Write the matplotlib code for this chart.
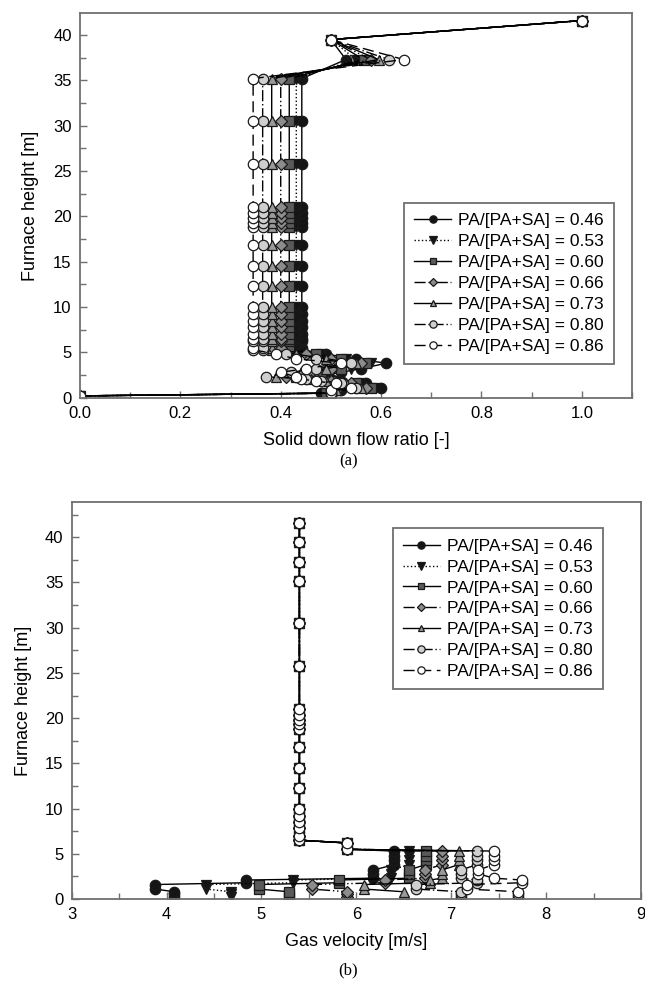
import matplotlib
matplotlib.use('Agg')
import matplotlib.pyplot as plt
from matplotlib.ticker import MultipleLocator

plt.rcParams['font.family'] = ['Liberation Sans', 'DejaVu Sans']

# heights of the cells [m], shared by both panels
heights = [0.2, 0.5, 0.8, 1.1, 1.6, 1.8, 2.1, 2.3, 2.8, 3.2, 3.8, 4.3, 4.8, 5.3,
           5.5, 6.2, 6.5, 7.0, 7.8, 8.5, 9.2, 10.0, 12.3, 14.5, 16.8, 18.8, 19.3,
           19.8, 20.4, 21.0, 25.8, 30.5, 35.2, 37.3, 39.5, 41.6]

labels = ['PA/[PA+SA] = 0.46', 'PA/[PA+SA] = 0.53', 'PA/[PA+SA] = 0.60',
          'PA/[PA+SA] = 0.66', 'PA/[PA+SA] = 0.73', 'PA/[PA+SA] = 0.80',
          'PA/[PA+SA] = 0.86']

# (a) solid down flow ratio [-]
sdr_046 = [0.0, 0.48, 0.52, 0.60, 0.57, 0.52, 0.50, 0.47, 0.52, 0.56, 0.61, 0.55, 0.49, 0.442,
           0.442, 0.442, 0.442, 0.442, 0.442, 0.442, 0.442, 0.442, 0.442, 0.442, 0.442, 0.442,
           0.442, 0.442, 0.442, 0.442, 0.442, 0.442, 0.442, 0.53, 0.50, 1.0]
sdr_053 = [0.0, 0.49, 0.52, 0.59, 0.56, 0.51, 0.49, 0.45, 0.50, 0.54, 0.58, 0.53, 0.48, 0.431,
           0.431, 0.431, 0.431, 0.431, 0.431, 0.431, 0.431, 0.431, 0.431, 0.431, 0.431, 0.431,
           0.431, 0.431, 0.431, 0.431, 0.431, 0.431, 0.431, 0.55, 0.50, 1.0]
sdr_060 = [0.0, 0.49, 0.51, 0.58, 0.55, 0.50, 0.48, 0.43, 0.48, 0.52, 0.57, 0.52, 0.47, 0.417,
           0.417, 0.417, 0.417, 0.417, 0.417, 0.417, 0.417, 0.417, 0.417, 0.417, 0.417, 0.417,
           0.417, 0.417, 0.417, 0.417, 0.417, 0.417, 0.417, 0.565, 0.50, 1.0]
sdr_066 = [0.0, 0.50, 0.51, 0.57, 0.54, 0.50, 0.47, 0.41, 0.46, 0.50, 0.56, 0.50, 0.45, 0.400,
           0.400, 0.400, 0.400, 0.400, 0.400, 0.400, 0.400, 0.400, 0.400, 0.400, 0.400, 0.400,
           0.400, 0.400, 0.400, 0.400, 0.400, 0.400, 0.400, 0.58, 0.50, 1.0]
sdr_073 = [0.0, 0.50, 0.51, 0.56, 0.53, 0.49, 0.46, 0.39, 0.44, 0.49, 0.55, 0.49, 0.43, 0.382,
           0.382, 0.382, 0.382, 0.382, 0.382, 0.382, 0.382, 0.382, 0.382, 0.382, 0.382, 0.382,
           0.382, 0.382, 0.382, 0.382, 0.382, 0.382, 0.382, 0.595, 0.50, 1.0]
sdr_080 = [0.0, 0.50, 0.50, 0.55, 0.52, 0.48, 0.45, 0.37, 0.42, 0.47, 0.54, 0.47, 0.41, 0.364,
           0.364, 0.364, 0.364, 0.364, 0.364, 0.364, 0.364, 0.364, 0.364, 0.364, 0.364, 0.364,
           0.364, 0.364, 0.364, 0.364, 0.364, 0.364, 0.364, 0.615, 0.50, 1.0]
sdr_086 = [0.0, 0.50, 0.50, 0.54, 0.51, 0.47, 0.44, 0.43, 0.40, 0.45, 0.52, 0.43, 0.39, 0.345,
           0.345, 0.345, 0.345, 0.345, 0.345, 0.345, 0.345, 0.345, 0.345, 0.345, 0.345, 0.345,
           0.345, 0.345, 0.345, 0.345, 0.345, 0.345, 0.345, 0.645, 0.50, 1.0]

# (b) gas velocity [m/s]
vel_046 = [4.08, 4.08, 4.08, 3.88, 3.88, 4.84, 4.84, 6.18, 6.18, 6.18, 6.40, 6.40, 6.40, 6.40,
           5.90, 5.90, 5.40, 5.40, 5.40, 5.40, 5.40, 5.40, 5.40, 5.40, 5.40, 5.40, 5.40,
           5.40, 5.40, 5.40, 5.40, 5.40, 5.40, 5.40, 5.40, 5.40]
vel_053 = [4.68, 4.68, 4.68, 4.42, 4.42, 5.33, 5.33, 6.36, 6.36, 6.36, 6.56, 6.56, 6.56, 6.56,
           5.90, 5.90, 5.40, 5.40, 5.40, 5.40, 5.40, 5.40, 5.40, 5.40, 5.40, 5.40, 5.40,
           5.40, 5.40, 5.40, 5.40, 5.40, 5.40, 5.40, 5.40, 5.40]
vel_060 = [5.29, 5.29, 5.29, 4.97, 4.97, 5.82, 5.82, 6.55, 6.55, 6.55, 6.73, 6.73, 6.73, 6.73,
           5.90, 5.90, 5.40, 5.40, 5.40, 5.40, 5.40, 5.40, 5.40, 5.40, 5.40, 5.40, 5.40,
           5.40, 5.40, 5.40, 5.40, 5.40, 5.40, 5.40, 5.40, 5.40]
vel_066 = [5.90, 5.90, 5.90, 5.53, 5.53, 6.30, 6.30, 6.72, 6.72, 6.72, 6.90, 6.90, 6.90, 6.90,
           5.90, 5.90, 5.40, 5.40, 5.40, 5.40, 5.40, 5.40, 5.40, 5.40, 5.40, 5.40, 5.40,
           5.40, 5.40, 5.40, 5.40, 5.40, 5.40, 5.40, 5.40, 5.40]
vel_073 = [6.50, 6.50, 6.50, 6.08, 6.08, 6.78, 6.78, 6.90, 6.90, 6.90, 7.08, 7.08, 7.08, 7.08,
           5.90, 5.90, 5.40, 5.40, 5.40, 5.40, 5.40, 5.40, 5.40, 5.40, 5.40, 5.40, 5.40,
           5.40, 5.40, 5.40, 5.40, 5.40, 5.40, 5.40, 5.40, 5.40]
vel_080 = [7.10, 7.10, 7.10, 6.63, 6.63, 7.27, 7.27, 7.10, 7.10, 7.10, 7.27, 7.27, 7.27, 7.27,
           5.90, 5.90, 5.40, 5.40, 5.40, 5.40, 5.40, 5.40, 5.40, 5.40, 5.40, 5.40, 5.40,
           5.40, 5.40, 5.40, 5.40, 5.40, 5.40, 5.40, 5.40, 5.40]
vel_086 = [7.70, 7.70, 7.70, 7.17, 7.17, 7.75, 7.75, 7.45, 7.28, 7.28, 7.45, 7.45, 7.45, 7.45,
           5.90, 5.90, 5.40, 5.40, 5.40, 5.40, 5.40, 5.40, 5.40, 5.40, 5.40, 5.40, 5.40,
           5.40, 5.40, 5.40, 5.40, 5.40, 5.40, 5.40, 5.40, 5.40]

sdr = [sdr_046, sdr_053, sdr_060, sdr_066, sdr_073, sdr_080, sdr_086]
vel = [vel_046, vel_053, vel_060, vel_066, vel_073, vel_080, vel_086]

styles = [
    dict(marker='o', mfc='#151515', ms=7.5, ls='-'),
    dict(marker='v', mfc='#151515', ms=7.5, ls=':'),
    dict(marker='s', mfc='#5a5a5a', ms=6.5, ls='-'),
    dict(marker='D', mfc='#8c8c8c', ms=6, dashes=(8, 2, 1, 2, 1, 2)),
    dict(marker='^', mfc='#9a9a9a', ms=7, ls='-'),
    dict(marker='o', mfc='#cfcfcf', ms=7.5, dashes=(8, 2, 1, 2)),
    dict(marker='o', mfc='white', ms=7.5, dashes=(8, 4)),
]

frame = '#707070'

fig = plt.figure(figsize=(6.45, 9.86), dpi=100)
ax1 = fig.add_axes([80 / 645, 1 - 397.7 / 986, 552 / 645, 384.4 / 986])
ax2 = fig.add_axes([71.7 / 645, 1 - 899 / 986, 569.3 / 645, 397 / 986])

for i in range(7):
    ax1.plot(sdr[i], heights, color='black', lw=1.0, mec='#1a1a1a', mew=0.9,
             label=labels[i], **styles[i])
    ax2.plot(vel[i], heights, color='black', lw=1.0, mec='#1a1a1a', mew=0.9,
             label=labels[i], **styles[i])

ax1.set_xlim(0, 1.1)
ax1.set_ylim(0, 42.4)
ax1.xaxis.set_major_locator(MultipleLocator(0.2))
ax1.xaxis.set_minor_locator(MultipleLocator(0.1))
ax1.set_xlabel('Solid down flow ratio [-]', fontsize=13, labelpad=8)
ax1.set_ylabel('Furnace height [m]', fontsize=13, labelpad=10)

ax2.set_xlim(3, 9)
ax2.set_ylim(0, 43.9)
ax2.xaxis.set_major_locator(MultipleLocator(1))
ax2.xaxis.set_minor_locator(MultipleLocator(0.5))
ax2.set_xlabel('Gas velocity [m/s]', fontsize=13, labelpad=8)
ax2.set_ylabel('Furnace height [m]', fontsize=13, labelpad=9)

for ax in (ax1, ax2):
    ax.yaxis.set_major_locator(MultipleLocator(5))
    ax.yaxis.set_minor_locator(MultipleLocator(2.5))
    for s in ax.spines.values():
        s.set_color(frame)
        s.set_linewidth(1.3)
    ax.tick_params(which='both', direction='in', color=frame, width=1.0,
                   labelsize=12, top=False, right=False)
    ax.tick_params(which='major', length=5, pad=6)
    ax.tick_params(which='minor', length=4)

leg_kw = dict(loc='upper left', fontsize=12.5, handlelength=2.1, handletextpad=0.4,
              labelspacing=0.33, borderpad=0.6, borderaxespad=0, fancybox=False,
              markerscale=0.7, edgecolor=frame, framealpha=1)
l1 = ax1.legend(bbox_to_anchor=(0.587, 0.507), **leg_kw)
l2 = ax2.legend(bbox_to_anchor=(0.564, 0.934), **leg_kw)
for lg in (l1, l2):
    lg.get_frame().set_linewidth(1.3)

fig.text(0.54, 1 - 461 / 986, '(a)', ha='center', va='center', fontsize=12,
         family='Liberation Serif')
fig.text(0.54, 1 - 970 / 986, '(b)', ha='center', va='center', fontsize=12,
         family='Liberation Serif')

fig.savefig('out.png', dpi=100)
